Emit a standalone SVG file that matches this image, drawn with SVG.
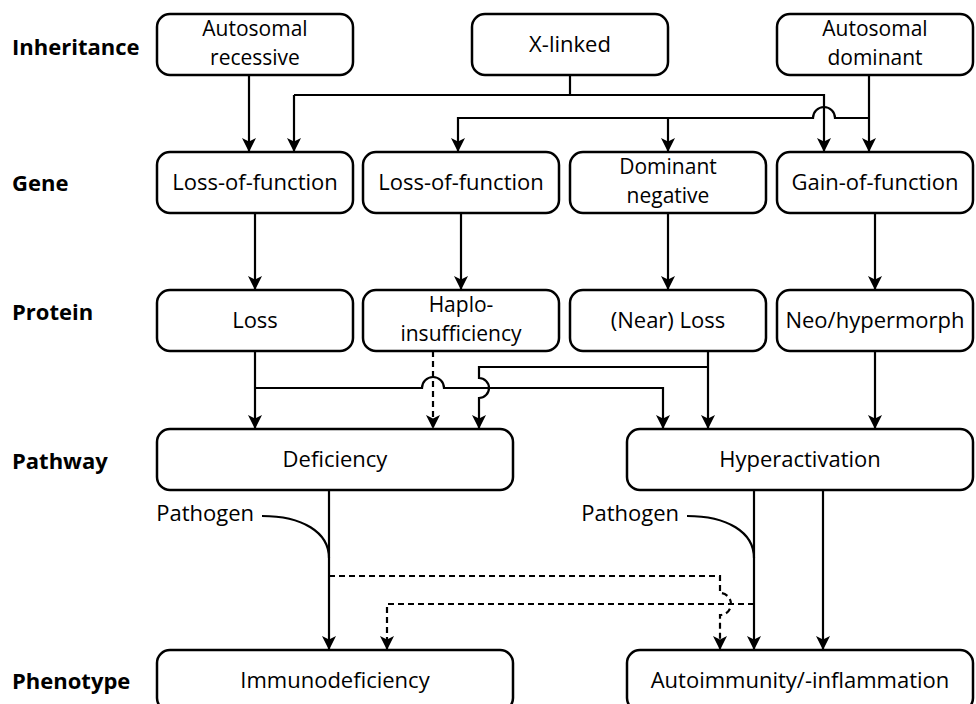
<svg xmlns="http://www.w3.org/2000/svg" width="976" height="704" viewBox="0 0 976 704">
<style>
.box{fill:#fff;stroke:#000;stroke-width:2.5}
.t{font-family:"Open Sans","Liberation Sans",sans-serif;font-size:22px;fill:#000;text-anchor:middle}
.t2{font-size:21px}
.lbl{font-family:"Open Sans","Liberation Sans",sans-serif;font-size:22px;font-weight:bold;fill:#000}
.c{fill:none;stroke:#000;stroke-width:2.2}
.a{marker-end:url(#ah)}
.d{stroke-dasharray:6 4}
</style>
<defs>
<marker id="ah" markerUnits="userSpaceOnUse" markerWidth="16" markerHeight="16" refX="14" refY="8" orient="auto">
<path d="M0,1 L14,8 L0,15 L3.5,8 Z" fill="#000"/>
</marker>
</defs>
<rect width="976" height="704" fill="#fff"/>
<g id="labels">
<text class="lbl" x="12" y="55">Inheritance</text>
<text class="lbl" x="12" y="191">Gene</text>
<text class="lbl" x="12" y="320">Protein</text>
<text class="lbl" x="12" y="469">Pathway</text>
<text class="lbl" x="12" y="689">Phenotype</text>
</g>
<g id="connectors">
<path class="c a" d="M249,75 V152"/>
<path class="c" d="M570,75 V95"/>
<path class="c a" d="M294,95 V152"/>
<path class="c a" d="M294,95 H824 V152"/>
<path class="c a" d="M869,75 V152"/>
<path class="c a" d="M869,118 H835 A11,11 0 0 0 813,118 H458 V152"/>
<path class="c a" d="M668,118 V152"/>
<path class="c a" d="M255,213 V290"/>
<path class="c a" d="M461,213 V290"/>
<path class="c a" d="M668,213 V290"/>
<path class="c a" d="M875,213 V290"/>
<path class="c a" d="M255,351 V429"/>
<path class="c a" d="M255,388 H422 A11,11 0 0 1 444,388 H663 V429"/>
<path class="c d a" d="M433,351 V429"/>
<path class="c a" d="M708,351 V429"/>
<path class="c a" d="M708,367 H479 V378 A10,10 0 0 1 479,398 V429"/>
<path class="c a" d="M875,351 V429"/>
<path class="c a" d="M329,490 V650"/>
<path class="c" d="M262,516 C302,516 329,532 329,558"/>
<path class="c d a" d="M329,576 H720 V593 A11,11 0 0 1 720,615 V650"/>
<path class="c d a" d="M754,604 H387 V650"/>
<path class="c a" d="M754,490 V650"/>
<path class="c" d="M687,516 C727,516 754,532 754,558"/>
<path class="c a" d="M823,490 V650"/>
<text class="t" x="254" y="521" style="text-anchor:end">Pathogen</text>
<text class="t" x="679" y="521" style="text-anchor:end">Pathogen</text>
</g>
<g id="n-ar"><rect class="box" x="157" y="14" width="196" height="61" rx="13"/><text class="t t2" x="255" y="36">Autosomal</text><text class="t t2" x="255" y="65">recessive</text></g>
<g id="n-xl"><rect class="box" x="472" y="14" width="196" height="61" rx="13"/><text class="t" x="570" y="52">X-linked</text></g>
<g id="n-ad"><rect class="box" x="777" y="14" width="196" height="61" rx="13"/><text class="t t2" x="875" y="36">Autosomal</text><text class="t t2" x="875" y="65">dominant</text></g>
<g id="n-lof1"><rect class="box" x="157" y="152" width="196" height="61" rx="13"/><text class="t" x="255" y="190">Loss-of-function</text></g>
<g id="n-lof2"><rect class="box" x="363" y="152" width="196" height="61" rx="13"/><text class="t" x="461" y="190">Loss-of-function</text></g>
<g id="n-dn"><rect class="box" x="570" y="152" width="196" height="61" rx="13"/><text class="t t2" x="668" y="174">Dominant</text><text class="t t2" x="668" y="203">negative</text></g>
<g id="n-gof"><rect class="box" x="777" y="152" width="196" height="61" rx="13"/><text class="t" x="875" y="190">Gain-of-function</text></g>
<g id="n-loss"><rect class="box" x="157" y="290" width="196" height="61" rx="13"/><text class="t" x="255" y="328">Loss</text></g>
<g id="n-haplo"><rect class="box" x="363" y="290" width="196" height="61" rx="13"/><text class="t t2" x="461" y="312">Haplo-</text><text class="t t2" x="461" y="341">insufficiency</text></g>
<g id="n-nearloss"><rect class="box" x="570" y="290" width="196" height="61" rx="13"/><text class="t" x="668" y="328">(Near) Loss</text></g>
<g id="n-neo"><rect class="box" x="777" y="290" width="196" height="61" rx="13"/><text class="t" x="875" y="328">Neo/hypermorph</text></g>
<g id="n-def"><rect class="box" x="157" y="429" width="356" height="61" rx="13"/><text class="t" x="335" y="467">Deficiency</text></g>
<g id="n-hyper"><rect class="box" x="627" y="429" width="346" height="61" rx="13"/><text class="t" x="800" y="467">Hyperactivation</text></g>
<g id="n-immuno"><rect class="box" x="157" y="650" width="356" height="61" rx="13"/><text class="t" x="335" y="688">Immunodeficiency</text></g>
<g id="n-auto"><rect class="box" x="627" y="650" width="346" height="61" rx="13"/><text class="t" x="800" y="688">Autoimmunity/-inflammation</text></g>
</svg>
